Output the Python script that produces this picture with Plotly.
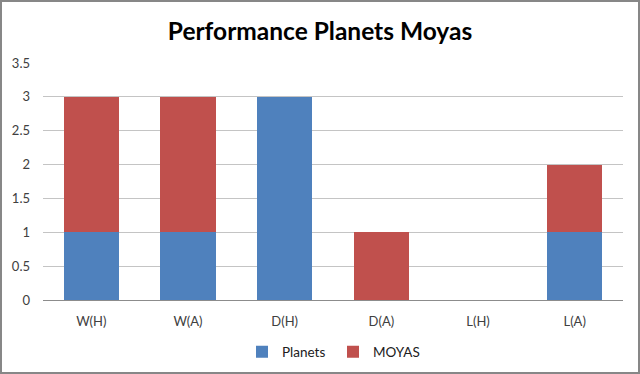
import plotly.graph_objects as go

categories = ["W(H)", "W(A)", "D(H)", "D(A)", "L(H)", "L(A)"]
planets = [1, 1, 3, 0, 0, 1]
moyas = [2, 2, 0, 1, 0, 1]

L, R, T, B = 43, 17, 63, 74
W, H = 640, 374
pw, ph = W - L - R, H - T - B

def px_x(p):
    return (p - L) / pw

def px_y(p):
    return (H - B - p) / ph

fig = go.Figure()
fig.add_trace(go.Bar(x=categories, y=planets, name="Planets", marker=dict(color="#4F81BD", line=dict(width=0))))
fig.add_trace(go.Bar(x=categories, y=moyas, name="MOYAS", marker=dict(color="#C0504D", line=dict(width=0))))

fig.update_layout(
    width=W, height=H,
    barmode="stack", bargap=0.43,
    margin=dict(l=L, r=R, t=T, b=B, autoexpand=False),
    paper_bgcolor="white", plot_bgcolor="white",
    font=dict(family="Lato, Open Sans, sans-serif", size=13, color="#404040"),
    title=dict(text="<b>Performance Planets Moyas</b>", x=0.5, xanchor="center", y=1 - 31 / H, yanchor="middle",
               font=dict(family="Lato, Open Sans, sans-serif", size=24.5, color="black")),
    xaxis=dict(showgrid=False, showline=False, ticks="", tickfont=dict(size=13, color="#404040"),
               ticklabelstandoff=12),
    yaxis=dict(range=[0, 3.5], dtick=0.5, showgrid=True, gridcolor="#C4C4C4", gridwidth=1,
               zeroline=True, zerolinecolor="#8C8C8C", zerolinewidth=1, showline=False,
               ticks="", tickfont=dict(size=13, color="#404040"), ticklabelstandoff=12),
    legend=dict(orientation="h", x=0.5, xanchor="center", y=px_y(352), yanchor="middle",
                font=dict(size=13.5, color="#202020"), itemwidth=30, traceorder="normal",
                entrywidth=46, entrywidthmode="pixels"),
    showlegend=True,
)
fig.add_shape(type="rect", xref="paper", yref="paper",
              x0=px_x(1), x1=px_x(639), y0=px_y(373), y1=px_y(1),
              line=dict(color="#878787", width=2), fillcolor="rgba(0,0,0,0)", layer="above")

fig.write_html("out.html", config={"displayModeBar": False},
               post_script="document.body.style.margin='0';document.body.style.overflow='hidden';")
